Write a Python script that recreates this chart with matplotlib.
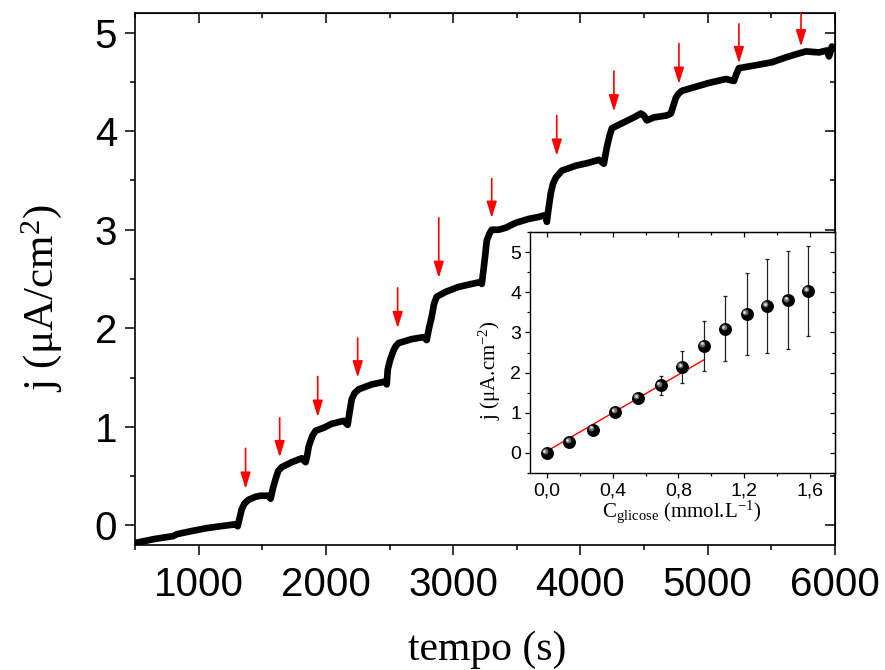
import matplotlib
matplotlib.use("Agg")
import matplotlib.pyplot as plt
from matplotlib.ticker import MultipleLocator
from matplotlib.transforms import offset_copy

plt.rcParams['font.family'] = ['Liberation Sans', 'DejaVu Sans']
plt.rcParams['mathtext.fontset'] = 'custom'
plt.rcParams['mathtext.rm'] = 'Liberation Serif'
plt.rcParams['mathtext.it'] = 'Liberation Serif:italic'

# chronoamperometric trace: time (s) and current density (uA/cm2)
time_s = [500, 650, 800, 830, 940, 1060, 1170, 1290, 1307, 1320, 1338, 1360,
          1393, 1450, 1487, 1550, 1566, 1585, 1605, 1625, 1653, 1731, 1810,
          1841, 1855, 1865, 1881, 1895, 1920, 1983, 2046, 2140, 2171, 2185,
          2203, 2225, 2258, 2360, 2470, 2478, 2486, 2505, 2533, 2550, 2572,
          2675, 2769, 2792, 2810, 2832, 2850, 2871, 2942, 3044, 3146, 3217,
          3225, 3241, 3250, 3264, 3285, 3303, 3358, 3413, 3492, 3594, 3673,
          3728, 3736, 3750, 3767, 3785, 3807, 3854, 3964, 4066, 4145, 4184,
          4195, 4208, 4228, 4247, 4325, 4420, 4475, 4498, 4522, 4577, 4679,
          4711, 4730, 4750, 4770, 4797, 4876, 5009, 5143, 5206, 5225, 5245,
          5379, 5505, 5615, 5717, 5772, 5874, 5937, 5953, 5976, 6000]
current = [-0.18, -0.14, -0.11, -0.09, -0.06, -0.03, -0.01, 0.01, -0.01, 0.06,
           0.16, 0.22, 0.26, 0.29, 0.30, 0.30, 0.27, 0.38, 0.47, 0.55, 0.59,
           0.64, 0.68, 0.64, 0.72, 0.80, 0.86, 0.91, 0.96, 0.99, 1.03, 1.06,
           1.02, 1.14, 1.28, 1.34, 1.38, 1.43, 1.46, 1.43, 1.58, 1.68, 1.78,
           1.82, 1.85, 1.89, 1.91, 1.88, 2.00, 2.12, 2.25, 2.32, 2.37, 2.42,
           2.45, 2.47, 2.45, 2.62, 2.72, 2.89, 2.96, 3.00, 3.00, 3.02, 3.07,
           3.11, 3.13, 3.15, 3.08, 3.22, 3.37, 3.47, 3.53, 3.60, 3.65, 3.68,
           3.71, 3.67, 3.75, 3.84, 3.95, 4.03, 4.08, 4.14, 4.18, 4.16, 4.11,
           4.14, 4.16, 4.18, 4.26, 4.34, 4.38, 4.41, 4.44, 4.49, 4.53, 4.51,
           4.58, 4.64, 4.67, 4.70, 4.75, 4.79, 4.81, 4.80, 4.82, 4.76, 4.86,
           4.84]

# glucose additions
addition_time = [1369, 1637, 1936, 2250, 2564, 2887, 3303, 3814, 4263, 4774, 5245, 5733]
arrow_tip = [0.37, 0.69, 1.10, 1.50, 2.00, 2.51, 3.12, 3.75, 4.20, 4.48, 4.69, 4.86]
arrow_tail = [0.78, 1.09, 1.51, 1.90, 2.41, 3.12, 3.52, 4.16, 4.61, 4.89, 5.09, 5.20]

# calibration curve
conc = [0.0, 0.137, 0.28, 0.417, 0.554, 0.692, 0.821, 0.954, 1.085, 1.213,
        1.336, 1.463, 1.585]
j_mean = [0.0, 0.27, 0.58, 1.02, 1.37, 1.68, 2.14, 2.67, 3.09, 3.46, 3.66, 3.80, 4.03]
j_err = [0.03, 0.04, 0.05, 0.06, 0.08, 0.24, 0.40, 0.62, 0.81, 1.01, 1.17, 1.22, 1.12]
fit_conc = [0.0, 0.955]
fit_j = [0.04, 2.32]

main_xticks = [1000, 2000, 3000, 4000, 5000, 6000]
main_xlabels = ['1000', '2000', '3000', '4000', '5000', '6000']
main_yticks = [0, 1, 2, 3, 4, 5]
main_ylabels = ['0', '1', '2', '3', '4', '5']
inset_xticks = [0.0, 0.4, 0.8, 1.2, 1.6]
inset_xlabels = ['0,0', '0,4', '0,8', '1,2', '1,6']
inset_yticks = [0, 1, 2, 3, 4, 5]
inset_ylabels = ['0', '1', '2', '3', '4', '5']

fig = plt.figure(figsize=(8.85, 6.7), dpi=100)
ax = fig.add_axes([0.1525, 0.1866, 0.791, 0.794])

ax.plot(time_s, current, color='black', lw=4.8,
        solid_joinstyle='round', solid_capstyle='round', zorder=3)

for x, tip, tail in zip(addition_time, arrow_tip, arrow_tail):
    ax.annotate('', xy=(x, tip), xytext=(x, tail),
                arrowprops=dict(arrowstyle='-|>,head_length=0.55,head_width=0.17',
                                color='#ff0000', lw=1.2, shrinkA=0, shrinkB=0,
                                mutation_scale=18),
                zorder=4)

ax.set_xlim(500, 6000)
ax.set_ylim(-0.2, 5.2)
ax.set_xticks(main_xticks)
ax.set_xticklabels(main_xlabels)
ax.set_yticks(main_yticks)
ax.set_yticklabels(main_ylabels)
ax.xaxis.set_minor_locator(MultipleLocator(500))
ax.yaxis.set_minor_locator(MultipleLocator(0.5))
ax.tick_params(which='both', direction='out', top=False, right=False,
               labelsize=29, width=1.1)
ax.tick_params(which='major', length=7)
ax.tick_params(which='minor', length=3.5)
ax.tick_params(axis='x', pad=8)
ax.tick_params(axis='y', pad=6)
for s in ax.spines.values():
    s.set_linewidth(1.2)

top = ax.secondary_xaxis('top')
top.set_xticks(main_xticks)
top.xaxis.set_minor_locator(MultipleLocator(500))
top.tick_params(which='both', direction='in', labeltop=False, labelbottom=False, width=1.1)
top.tick_params(which='major', length=7)
top.tick_params(which='minor', length=3.5)
right = ax.secondary_yaxis('right')
right.set_yticks(main_yticks)
right.yaxis.set_minor_locator(MultipleLocator(0.5))
right.tick_params(which='both', direction='in', labelright=False, labelleft=False, width=1.1)
right.tick_params(which='major', length=7)
right.tick_params(which='minor', length=3.5)

fig.text(0.550, 0.0149, 'tempo (s)', family='Liberation Serif', fontsize=30,
         ha='center', va='baseline')
fig.text(0.047, 0.555, 'j (μA/cm$^{2}$)', family='Liberation Serif', fontsize=31,
         rotation=90, ha='center', va='center')

# inset: calibration curve
ins = fig.add_axes([0.599, 0.294, 0.3446, 0.3597])
ins.set_facecolor('white')
ins.plot(fit_conc, fit_j, color='#ff0000', lw=1.0, zorder=2)
ins.errorbar(conc, j_mean, yerr=j_err, fmt='none', ecolor='#222222',
             elinewidth=0.9, capsize=1.6, capthick=0.9, zorder=3)
ins.plot(conc, j_mean, 'o', color='black', ms=8.3, mec='black', zorder=4)
shade = offset_copy(ins.transData, fig=fig, x=-1.2, y=1.2, units='points')
ins.plot(conc, j_mean, 'o', color='#6a6a6a', ms=4.2, mew=0, transform=shade, zorder=5)
shine = offset_copy(ins.transData, fig=fig, x=-1.6, y=1.6, units='points')
ins.plot(conc, j_mean, 'o', color='#dcdcdc', ms=2.0, mew=0, transform=shine, zorder=6)

ins.set_xlim(-0.1, 1.75)
ins.set_ylim(-0.5, 5.5)
ins.set_xticks(inset_xticks)
ins.set_xticklabels(inset_xlabels)
ins.set_yticks(inset_yticks)
ins.set_yticklabels(inset_ylabels)
ins.xaxis.set_minor_locator(MultipleLocator(0.2))
ins.yaxis.set_minor_locator(MultipleLocator(0.5))
ins.tick_params(which='both', direction='out', top=False, right=False,
                labelsize=14, width=0.9, pad=3)
ins.tick_params(which='major', length=3.5)
ins.tick_params(which='minor', length=2)
for s in ins.spines.values():
    s.set_linewidth(1.0)

itop = ins.secondary_xaxis('top')
itop.set_xticks(inset_xticks)
itop.xaxis.set_minor_locator(MultipleLocator(0.2))
itop.tick_params(which='both', direction='in', labeltop=False, labelbottom=False, width=0.9)
itop.tick_params(which='major', length=3.5)
itop.tick_params(which='minor', length=2)
iright = ins.secondary_yaxis('right')
iright.set_yticks(inset_yticks)
iright.yaxis.set_minor_locator(MultipleLocator(0.5))
iright.tick_params(which='both', direction='in', labelright=False, labelleft=False, width=0.9)
iright.tick_params(which='major', length=3.5)
iright.tick_params(which='minor', length=2)

fig.text(0.770, 0.237, 'C$_{\\mathregular{glicose}}$ (mmol.L$^{-1}$)',
         family='Liberation Serif', fontsize=15, ha='center', va='center')
fig.text(0.554, 0.448, 'j (μA.cm$^{-2}$)', family='Liberation Serif', fontsize=15,
         rotation=90, ha='center', va='center')

fig.savefig('out.png', dpi=100)
